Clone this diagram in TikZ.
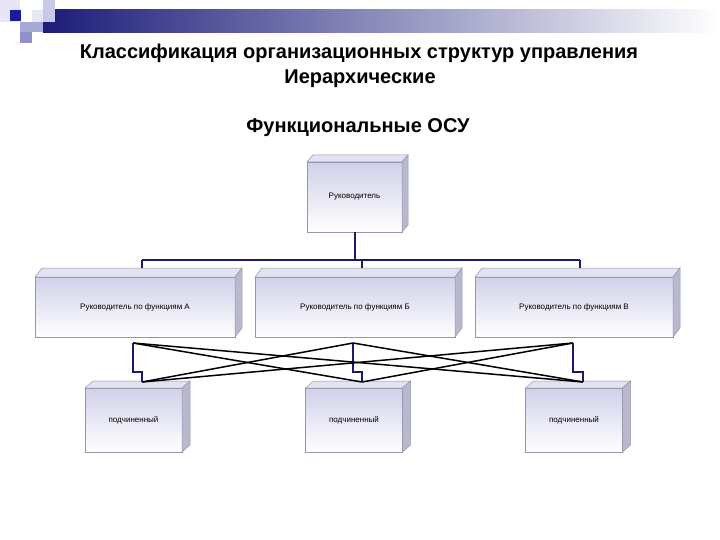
\documentclass[tikz,border=0pt]{standalone}
\usepackage{fontspec}
\setmainfont{Liberation Sans}
\usetikzlibrary{calc}
\definecolor{navyl}{RGB}{26,26,110}
\definecolor{lav}{RGB}{208,208,234}
\definecolor{lavtop}{RGB}{226,226,242}
\definecolor{lavside}{RGB}{184,184,206}
\definecolor{edgec}{RGB}{150,150,170}
\definecolor{sqblue}{RGB}{26,26,160}
\definecolor{sqpale}{RGB}{230,230,244}
\definecolor{sqlight}{RGB}{200,200,232}
\definecolor{sqmid}{RGB}{168,168,216}
\definecolor{sqdark}{RGB}{144,144,200}
\definecolor{barl}{RGB}{28,28,122}
\definecolor{barm}{RGB}{140,140,180}
\newcommand\cubebox[8]{%
  \node[frontface, minimum width=#4pt, minimum height=#5pt] (#1) at (#2,#3) {#8};
  \draw[topface] (#1.north west) -- ++(#6pt,#7pt) -- ($(#1.north east)+(#6pt,#7pt)$) -- (#1.north east) -- cycle;
  \draw[sideface] (#1.north east) -- ++(#6pt,#7pt) -- ($(#1.south east)+(#6pt,#7pt)$) -- (#1.south east) -- cycle;
}
\tikzset{
  frontface/.style={draw=edgec, line width=0.5pt, top color=lav, bottom color=white, inner sep=0pt, outer sep=0pt, font=\fontsize{8}{9}\selectfont},
  topface/.style={draw=edgec, line width=0.5pt, fill=lavtop},
  sideface/.style={draw=edgec, line width=0.5pt, fill=lavside},
  hier/.style={draw=navyl, line width=2pt},
  cross/.style={draw=black, line width=1.5pt},
  titlef/.style={font=\bfseries\fontsize{20}{24}\selectfont, inner sep=0pt}
}
\begin{document}
\begin{tikzpicture}[x=1pt,y=-1pt]
\useasboundingbox (0,0) rectangle (720,540);
\fill[white] (0,0) rectangle (720,540);
% header decoration
\fill[sqpale] (0,0) rectangle (20,22);
\fill[left color=barl, middle color=barm, right color=white, draw=none] (43,10) rectangle (720,33);
\fill[sqpale] (32,10) rectangle (43,22);
\fill[sqlight] (43,0) rectangle (55,22);
\fill[sqmid] (20,22) rectangle (43,32);
\fill[sqdark] (20,32) rectangle (32,43);
\fill[sqblue] (10,10) rectangle (21,21);
% titles
\node[titlef] (t1) at (359,53) {Классификация организационных структур управления};
\node[titlef] (t2) at (360,79) {Иерархические};
\node[titlef] (t3) at (358,128) {Функциональные ОСУ};
% boxes
\cubebox{R}{354.5}{197}{95}{70}{6}{7}{Руководитель}
\cubebox{A}{135}{307}{200}{60}{7}{9}{Руководитель по функциям А}
\cubebox{B}{355}{307}{200}{60}{7}{9}{Руководитель по функциям Б}
\cubebox{C}{574}{307}{198}{60}{7}{9}{Руководитель по функциям В}
\cubebox{S1}{133.5}{420}{97}{64}{8}{7}{подчиненный}
\cubebox{S2}{354}{420}{97}{64}{8}{7}{подчиненный}
\cubebox{S3}{574}{420}{97}{64}{8}{7}{подчиненный}
% upper connectors
\coordinate (hR) at (354.5,260);
\coordinate (hA) at (142,260);
\coordinate (hB) at (362,260);
\coordinate (hC) at (580,260);
\coordinate (tA) at (142,268);
\coordinate (tB) at (362,268);
\coordinate (tC) at (580,268);
\draw[hier] (R.south) -- (hR);
\draw[hier] (hA) -- (hC);
\draw[hier] (hA) -- (tA);
\draw[hier] (hB) -- (tB);
\draw[hier] (hC) -- (tC);
% lower connectors
\coordinate (pA) at (133,343);
\coordinate (pB) at (353,343);
\coordinate (pC) at (573,343);
\coordinate (qA) at (142,382);
\coordinate (qB) at (362,382);
\coordinate (qC) at (583,382);
\draw[hier] (pA) -- ++(0,29) -| (qA);
\draw[hier] (pB) -- ++(0,29) -| (qB);
\draw[hier] (pC) -- ++(0,29) -| (qC);
\draw[cross] (pA) -- (qB);
\draw[cross] (pA) -- (qC);
\draw[cross] (pB) -- (qA);
\draw[cross] (pB) -- (qC);
\draw[cross] (pC) -- (qA);
\draw[cross] (pC) -- (qB);
\end{tikzpicture}
\end{document}
